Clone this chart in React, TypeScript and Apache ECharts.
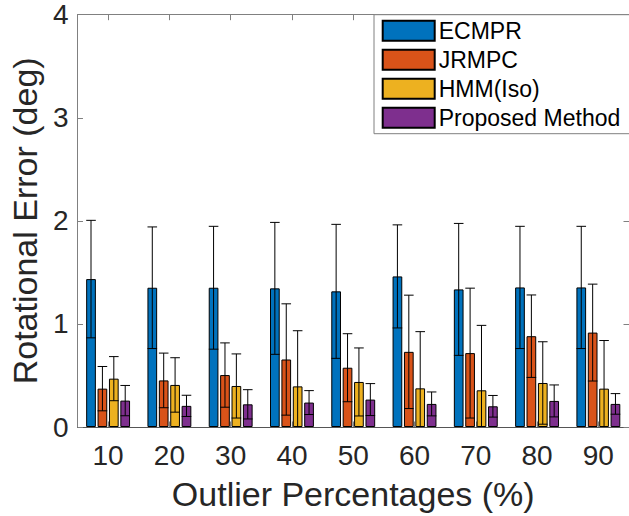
import React, { useEffect, useRef } from "react";
import * as echarts from "echarts";

const categories = ["10", "20", "30", "40", "50", "60", "70", "80", "90"];
const seriesNames = ["ECMPR", "JRMPC", "HMM(Iso)", "Proposed Method"];
const seriesColors = ["#0072BD", "#D95319", "#EDB120", "#7E2F8E"];

const ecmprMean = [1.435, 1.351, 1.351, 1.345, 1.316, 1.461, 1.335, 1.354, 1.354];
const ecmprErr = [0.57, 0.59, 0.596, 0.64, 0.65, 0.5, 0.64, 0.593, 0.593];
const jrmpcMean = [0.372, 0.452, 0.504, 0.655, 0.575, 0.729, 0.717, 0.881, 0.916];
const jrmpcErr = [0.215, 0.265, 0.312, 0.54, 0.33, 0.55, 0.63, 0.4, 0.47];
const hmmMean = [0.469, 0.408, 0.398, 0.394, 0.437, 0.375, 0.356, 0.427, 0.372];
const hmmErr = [0.214, 0.264, 0.311, 0.54, 0.33, 0.55, 0.63, 0.4, 0.467];
const propMean = [0.256, 0.205, 0.22, 0.237, 0.266, 0.224, 0.201, 0.253, 0.224];
const propErr = [0.147, 0.103, 0.142, 0.116, 0.155, 0.116, 0.105, 0.155, 0.1];

const yTicks = [0, 1, 2, 3, 4];

const means = [ecmprMean, jrmpcMean, hmmMean, propMean];
const errs = [ecmprErr, jrmpcErr, hmmErr, propErr];

const BAR_W = 9.7;
const BAR_STEP = 11.4;
const CAP_HALF = 4.8;
const FONT = "'Liberation Sans', Arial, Helvetica, sans-serif";
const AXIS_COLOR = "#808080";
const TEXT_COLOR = "#262626";

export default function App() {
  const ref = useRef<HTMLDivElement>(null);
  useEffect(() => {
    if (!ref.current) return;
    const chart = echarts.init(ref.current, null, { renderer: "svg" });

    const barSeries = seriesNames.map((name, s) => ({
      name,
      type: "bar",
      xAxisIndex: 0,
      yAxisIndex: 0,
      barWidth: BAR_W,
      barGap: "17.5%",
      data: means[s],
      itemStyle: { color: seriesColors[s], borderColor: "#000", borderWidth: 1 },
      z: 2,
    }));

    const errSeries = seriesNames.map((name, s) => ({
      name: name + "-err",
      type: "custom",
      xAxisIndex: 0,
      yAxisIndex: 0,
      clip: true,
      z: 5,
      silent: true,
      data: categories.map((_, i) => [i, means[s][i] - errs[s][i], means[s][i] + errs[s][i]]),
      renderItem: (params: any, api: any) => {
        const lo = api.coord([api.value(0), api.value(1)]);
        const hi = api.coord([api.value(0), api.value(2)]);
        const x = lo[0] + (s - 1.5) * BAR_STEP;
        const style = { stroke: "#000", lineWidth: 1 };
        return {
          type: "group",
          children: [
            { type: "line", shape: { x1: x, y1: lo[1], x2: x, y2: hi[1] }, style },
            { type: "line", shape: { x1: x - CAP_HALF, y1: lo[1], x2: x + CAP_HALF, y2: lo[1] }, style },
            { type: "line", shape: { x1: x - CAP_HALF, y1: hi[1], x2: x + CAP_HALF, y2: hi[1] }, style },
          ],
        };
      },
    }));

    const option: any = {
      animation: false,
      textStyle: { fontFamily: FONT },
      grid: { left: 73.3, top: 14.7, width: 563.3, height: 413.8, containLabel: false },
      legend: {
        data: seriesNames,
        orient: "vertical",
        left: 374,
        top: 14.7,
        icon: "rect",
        itemWidth: 52,
        itemHeight: 20,
        itemGap: 6,
        padding: [4.5, 12, 4.5, 7.7],
        backgroundColor: "#fff",
        borderColor: "#808080",
        borderWidth: 1,
        textStyle: { fontSize: 23, color: "#000", fontFamily: FONT, padding: [0, 0, 0, -1] },
      },
      xAxis: [
        {
          type: "category",
          data: categories,
          position: "bottom",
          name: "Outlier Percentages (%)",
          nameLocation: "middle",
          nameGap: 50,
          nameTextStyle: { fontSize: 34, color: TEXT_COLOR, fontFamily: FONT },
          axisLine: { show: true, lineStyle: { color: "#555", width: 1 } },
          axisTick: { show: true, inside: true, alignWithLabel: true, length: 5.5, lineStyle: { color: AXIS_COLOR } },
          axisLabel: { fontSize: 28, color: TEXT_COLOR, margin: 14, fontFamily: FONT },
          splitLine: { show: false },
        },
        {
          type: "category",
          data: categories,
          position: "top",
          axisLine: { show: true, onZero: false, lineStyle: { color: AXIS_COLOR, width: 1 } },
          axisTick: { show: true, inside: true, alignWithLabel: true, length: 5.5, lineStyle: { color: AXIS_COLOR } },
          axisLabel: { show: false },
          splitLine: { show: false },
        },
      ],
      yAxis: [
        {
          type: "value",
          min: yTicks[0],
          max: yTicks[yTicks.length - 1],
          interval: 1,
          position: "left",
          name: "Rotational Error (deg)",
          nameLocation: "middle",
          nameGap: 34,
          nameTextStyle: { fontSize: 34, color: TEXT_COLOR, fontFamily: FONT },
          axisLine: { show: true, lineStyle: { color: AXIS_COLOR, width: 1 } },
          axisTick: { show: true, inside: true, length: 5.5, lineStyle: { color: AXIS_COLOR } },
          axisLabel: { fontSize: 28, color: TEXT_COLOR, margin: 9, fontFamily: FONT },
          splitLine: { show: false },
        },
        {
          type: "value",
          min: yTicks[0],
          max: yTicks[yTicks.length - 1],
          interval: 1,
          position: "right",
          axisLine: { show: true, lineStyle: { color: AXIS_COLOR, width: 1 } },
          axisTick: { show: true, inside: true, length: 5.5, lineStyle: { color: AXIS_COLOR } },
          axisLabel: { show: false },
          splitLine: { show: false },
        },
      ],
      series: [...barSeries, ...errSeries],
    };
    chart.setOption(option);
    return () => chart.dispose();
  }, []);
  return (
    <div
      ref={ref}
      style={{ position: "fixed", left: 0, top: 0, width: 629, height: 516, background: "#fff" }}
    />
  );
}
